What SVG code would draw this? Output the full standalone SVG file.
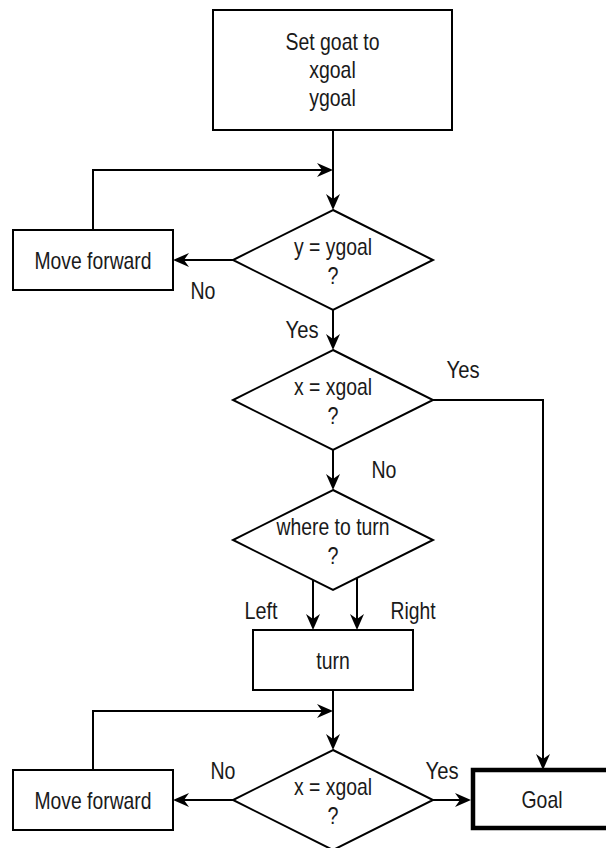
<svg xmlns="http://www.w3.org/2000/svg" width="606" height="848" viewBox="0 0 606 848">
<style>
.box{fill:#fff;stroke:#000;stroke-width:2}
.goal{fill:#fff;stroke:#000;stroke-width:4.5}
.con{fill:none;stroke:#000;stroke-width:2}
text{font-family:"Liberation Sans",Arial,sans-serif;font-size:24px;fill:#1a1a1a;text-anchor:middle}
</style>
<defs>
<marker id="arr" viewBox="-17 -8 18 16" markerWidth="18" markerHeight="16" refX="-10" refY="0" orient="auto" markerUnits="userSpaceOnUse">
<path d="M0,0 L-16,-7 L-11,0 L-16,7 Z" fill="#000"/>
</marker>
</defs>
<g id="connectors">
<path class="con" d="M333,130 L333,200" marker-end="url(#arr)"/>
<path class="con" d="M93,230 L93,170 L323,170" marker-end="url(#arr)"/>
<path class="con" d="M233,260 L183,260" marker-end="url(#arr)"/>
<path class="con" d="M333,310 L333,340" marker-end="url(#arr)"/>
<path class="con" d="M433,400 L543,400 L543,760" marker-end="url(#arr)"/>
<path class="con" d="M333,450 L333,480" marker-end="url(#arr)"/>
<path class="con" d="M313,580 L313,620" marker-end="url(#arr)"/>
<path class="con" d="M357,578 L357,620" marker-end="url(#arr)"/>
<path class="con" d="M333,690 L333,740" marker-end="url(#arr)"/>
<path class="con" d="M93,770 L93,711 L323,711" marker-end="url(#arr)"/>
<path class="con" d="M233,800 L183,800" marker-end="url(#arr)"/>
<path class="con" d="M433,800 L461,800" marker-end="url(#arr)"/>
<text x="203" y="299" textLength="25" lengthAdjust="spacingAndGlyphs">No</text>
<text x="302" y="338" textLength="33" lengthAdjust="spacingAndGlyphs">Yes</text>
<text x="463" y="378" textLength="33" lengthAdjust="spacingAndGlyphs">Yes</text>
<text x="384" y="478" textLength="25" lengthAdjust="spacingAndGlyphs">No</text>
<text x="261" y="619" textLength="33" lengthAdjust="spacingAndGlyphs">Left</text>
<text x="413" y="619" textLength="45" lengthAdjust="spacingAndGlyphs">Right</text>
<text x="223" y="779" textLength="25" lengthAdjust="spacingAndGlyphs">No</text>
<text x="442" y="779" textLength="33" lengthAdjust="spacingAndGlyphs">Yes</text>
</g>
<g id="start">
<rect class="box" x="213" y="10" width="239" height="120"/>
<text x="332.5" y="50" textLength="94" lengthAdjust="spacingAndGlyphs">Set goat to</text>
<text x="332.5" y="78" textLength="46.5" lengthAdjust="spacingAndGlyphs">xgoal</text>
<text x="332.5" y="106" textLength="46.5" lengthAdjust="spacingAndGlyphs">ygoal</text>
</g>
<g id="move1">
<rect class="box" x="13" y="230" width="160" height="60"/>
<text x="93" y="269" textLength="117" lengthAdjust="spacingAndGlyphs">Move forward</text>
</g>
<g id="dec-y">
<polygon class="box" points="333,210 433,260 333,310 233,260"/>
<text x="333" y="255" textLength="78" lengthAdjust="spacingAndGlyphs">y = ygoal</text>
<text x="333" y="284" textLength="11" lengthAdjust="spacingAndGlyphs">?</text>
</g>
<g id="dec-x1">
<polygon class="box" points="333,350 433,400 333,450 233,400"/>
<text x="333" y="395" textLength="78" lengthAdjust="spacingAndGlyphs">x = xgoal</text>
<text x="333" y="424" textLength="11" lengthAdjust="spacingAndGlyphs">?</text>
</g>
<g id="dec-turn">
<polygon class="box" points="333,490 433,540 333,590 233,540"/>
<text x="333" y="535" textLength="113" lengthAdjust="spacingAndGlyphs">where to turn</text>
<text x="333" y="564" textLength="11" lengthAdjust="spacingAndGlyphs">?</text>
</g>
<g id="turn">
<rect class="box" x="253" y="630" width="160" height="60"/>
<text x="333" y="669" textLength="33.5" lengthAdjust="spacingAndGlyphs">turn</text>
</g>
<g id="move2">
<rect class="box" x="13" y="770" width="160" height="60"/>
<text x="93" y="809" textLength="117" lengthAdjust="spacingAndGlyphs">Move forward</text>
</g>
<g id="dec-x2">
<polygon class="box" points="333,750 433,800 333,850 233,800"/>
<text x="333" y="795" textLength="78" lengthAdjust="spacingAndGlyphs">x = xgoal</text>
<text x="333" y="824" textLength="11" lengthAdjust="spacingAndGlyphs">?</text>
</g>
<g id="goal">
<rect class="goal" x="473" y="770" width="140" height="58"/>
<text x="542" y="808" textLength="41" lengthAdjust="spacingAndGlyphs">Goal</text>
</g>
</svg>
